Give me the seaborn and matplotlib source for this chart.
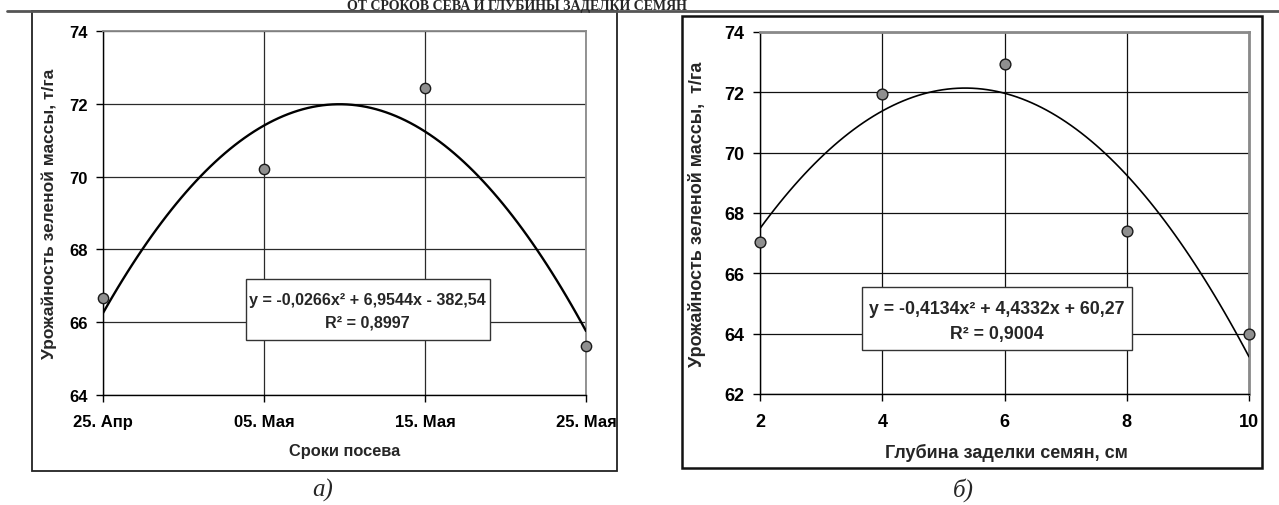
import numpy as np
import pandas as pd
import matplotlib
matplotlib.use('Agg')
import matplotlib.pyplot as plt
import seaborn as sns
from matplotlib.patches import Rectangle
from matplotlib.lines import Line2D

# ---------------- data ----------------
sow_labels = ['25. Апр', '05. Мая', '15. Мая', '25. Мая']
sow_day = [115, 125, 135, 145]            # day of year
sow_yield = [66.65, 70.2, 72.45, 65.35]   # т/га

depth_cm = [2, 4, 6, 8, 10]
depth_yield = [67.05, 71.93, 72.95, 67.4, 64.0]

eq_a = 'y = -0,0266x² + 6,9544x - 382,54'
r2_a = 'R² = 0,8997'
eq_b = 'y = -0,4134x² + 4,4332x + 60,27'
r2_b = 'R² = 0,9004'

yticks_a = [64, 66, 68, 70, 72, 74]
yticks_b = [62, 64, 66, 68, 70, 72, 74]
xticks_b = [2, 4, 6, 8, 10]

ylabel_a = 'Урожайность зеленой массы, т/га'
ylabel_b = 'Урожайность зеленой массы,  т/га'
xlabel_a = 'Сроки посева'
xlabel_b = 'Глубина заделки семян, см'
caption_a = 'а)'
caption_b = 'б)'
page_title = 'ОТ СРОКОВ СЕВА И ГЛУБИНЫ ЗАДЕЛКИ СЕМЯН'

# ---------------- style ----------------
sns.set_theme(style='white')
plt.rcParams['font.family'] = ['Liberation Sans', 'DejaVu Sans']
NARROW = ['Liberation Sans Narrow', 'Liberation Sans', 'DejaVu Sans']
SANS = ['Liberation Sans', 'DejaVu Sans']
SERIF = ['Liberation Serif', 'DejaVu Serif']

W, H = 1279, 506
fig = plt.figure(figsize=(W / 100, H / 100), dpi=100)
fig.patch.set_facecolor('white')


def px_rect(x0, y_top, x1, y_bot):
    return [x0 / W, 1 - y_bot / H, (x1 - x0) / W, (y_bot - y_top) / H]


axA = fig.add_axes(px_rect(103, 32.3, 586, 395.7))
axB = fig.add_axes(px_rect(760, 33, 1249, 395))

# ---------------- left chart ----------------
sns.regplot(x=sow_day, y=sow_yield, order=2, ci=None, ax=axA,
            scatter_kws=dict(s=55, color='#8f8f8f', edgecolors='#1a1a1a',
                             linewidths=1.0, alpha=1, zorder=5, clip_on=False),
            line_kws=dict(color='black', lw=1.7, zorder=4))
axA.set_xlim(115, 145)
axA.set_ylim(64, 74)
axA.set_xticks(sow_day)
axA.set_xticklabels(sow_labels)
axA.set_yticks(yticks_a)

# ---------------- right chart ----------------
sns.regplot(x=depth_cm, y=depth_yield, order=2, ci=None, ax=axB,
            scatter_kws=dict(s=60, color='#8f8f8f', edgecolors='#1a1a1a',
                             linewidths=1.0, alpha=1, zorder=5, clip_on=False),
            line_kws=dict(color='black', lw=1.2, zorder=4))
axB.set_xlim(2, 10)
axB.set_ylim(62, 74)
axB.set_xticks(xticks_b)
axB.set_yticks(yticks_b)

for ax, top_lw, gcol, fs, fam in [(axA, 1.3, '#2a2a2a', 12, NARROW),
                                  (axB, 2.0, '#111111', 13, SANS)]:
    ax.set_facecolor('white')
    ax.grid(True, color=gcol, lw=0.9)
    ax.set_axisbelow(True)
    ax.spines['left'].set_color('black')
    ax.spines['bottom'].set_color('black')
    ax.spines['left'].set_linewidth(1.0)
    ax.spines['bottom'].set_linewidth(1.0)
    for s in ('top', 'right'):
        ax.spines[s].set_color('#8a8a8a')
        ax.spines[s].set_linewidth(top_lw)
    ax.tick_params(axis='both', direction='out', length=5, width=1,
                   color='black', labelcolor='black', bottom=True, left=True)
    ax.tick_params(axis='y', pad=6)
    ax.tick_params(axis='x', pad=9)
    for lab in ax.get_xticklabels() + ax.get_yticklabels():
        lab.set_fontfamily(fam)
        lab.set_fontweight('bold')
        lab.set_fontsize(fs)
    ax.set_xlabel('')
    ax.set_ylabel('')

# axis titles
axA.set_xlabel(xlabel_a, fontfamily=SANS, fontweight='bold', fontsize=11.8)
axA.xaxis.set_label_coords((345 - 103) / 483, (395.7 - 452) / 363.4)
axA.xaxis.label.set_va('center')
axA.set_ylabel(ylabel_a, fontfamily=SANS, fontweight='bold', fontsize=12.5)
axA.yaxis.set_label_coords((49 - 103) / 483, 0.5)
axA.yaxis.label.set_va('center')

axB.set_xlabel(xlabel_b, fontfamily=SANS, fontweight='bold', fontsize=13)
axB.xaxis.set_label_coords((1006 - 760) / 489, (395 - 453) / 362)
axB.xaxis.label.set_va('center')
axB.set_ylabel(ylabel_b, fontfamily=SANS, fontweight='bold', fontsize=13)
axB.yaxis.set_label_coords((697 - 760) / 489, 0.5)
axB.yaxis.label.set_va('center')

# equation boxes
def eq_box(ax, x0, y0, x1, y1, l1y, l2y, line1, line2, fs, fam):
    ax.add_patch(Rectangle((x0 / W, 1 - y1 / H), (x1 - x0) / W, (y1 - y0) / H,
                           transform=fig.transFigure, facecolor='white',
                           edgecolor='#333333', lw=1.0, zorder=6, clip_on=False))
    cx = (x0 + x1) / 2 / W
    ax.text(cx, 1 - l1y / H, line1, transform=fig.transFigure, ha='center',
            va='center', fontsize=fs, fontweight='bold', fontfamily=fam, zorder=7)
    ax.text(cx, 1 - l2y / H, line2, transform=fig.transFigure, ha='center',
            va='center', fontsize=fs, fontweight='bold', fontfamily=fam, zorder=7)

eq_box(axA, 245.6, 279.5, 490, 340.5, 300, 323, eq_a, r2_a, 11.6, NARROW)
eq_box(axB, 862, 288, 1132, 350.5, 309, 335, eq_b, r2_b, 12.8, SANS)

# frames around the two charts, page rule
fig.add_artist(Rectangle((32 / W, 1 - 472 / H), (617 - 32) / W, (472 - 12) / H,
                         transform=fig.transFigure, fill=False,
                         edgecolor='#222222', lw=1.3))
fig.add_artist(Rectangle((682 / W, 1 - 469 / H), (1262 - 682) / W, (469 - 17) / H,
                         transform=fig.transFigure, fill=False,
                         edgecolor='#111111', lw=1.8))
fig.add_artist(Line2D([7 / W, 1.0], [1 - 12 / H, 1 - 12 / H],
                      transform=fig.transFigure, color='#555555', lw=2.0))

# captions
fig.text(323 / W, 1 - 490 / H, caption_a, ha='center', va='center',
         fontsize=18, fontstyle='italic', fontfamily=SERIF)
fig.text(963 / W, 1 - 490 / H, caption_b, ha='center', va='center',
         fontsize=18, fontstyle='italic', fontfamily=SERIF)

# page heading above the rule
fig.text(517 / W, 1 - 10 / H, page_title, ha='center', va='baseline',
         fontsize=10, fontweight='bold', fontfamily=SERIF)

fig.savefig('out.png', dpi=100, facecolor='white')
